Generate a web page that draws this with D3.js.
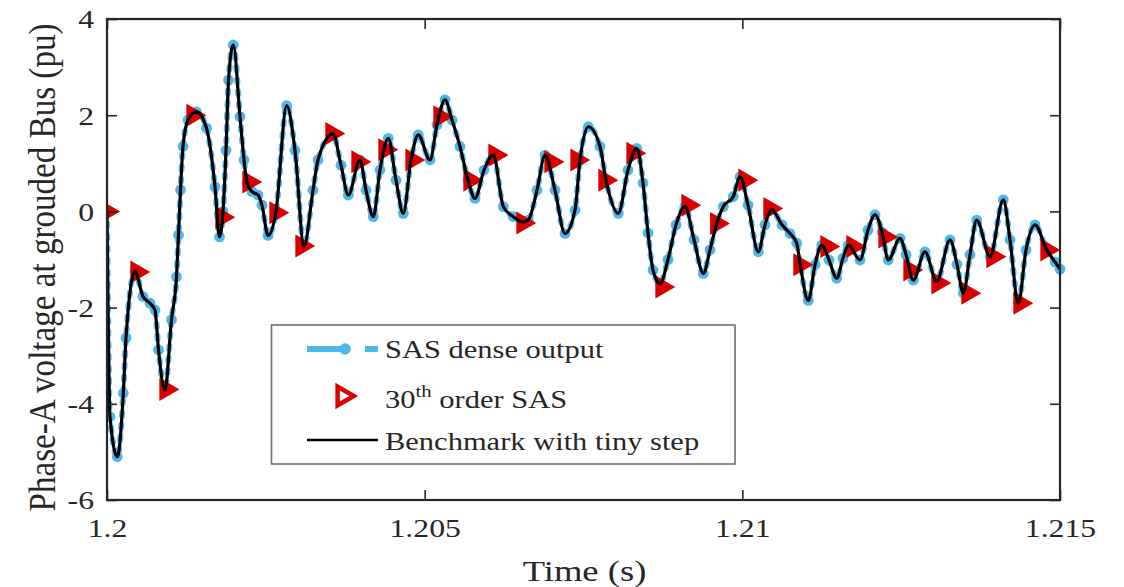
<!DOCTYPE html>
<html>
<head>
<meta charset="utf-8">
<script src="https://cdn.jsdelivr.net/npm/d3@7"></script>
<style>
  html, body { margin: 0; padding: 0; background: #fff; }
  svg { display: block; }
  text { font-family: "Liberation Serif", "Times New Roman", serif; fill: #262626; }
</style>
</head>
<body>
<svg id="chart" width="1124" height="587"></svg>
<script>
// ---- Data ----
// Time offsets in ms after 1.2 s; converted to seconds below.
const traceMs = [0.0000,0.0472,0.1621,0.2566,0.2991,0.4407,0.5666,0.6768,0.7555,0.8106,
  0.9129,1.0152,1.0939,1.1254,1.1569,1.1962,1.2749,1.4087,1.5661,1.6999,
  1.7708,1.8258,1.8731,1.9124,1.9880,2.0934,2.1564,2.2036,2.2823,2.3767,
  2.4397,2.5341,2.6601,2.8285,2.9591,3.1008,3.2424,3.3211,3.5572,3.6832,
  3.7981,3.9822,4.0767,4.1916,4.2970,4.4277,4.5489,4.6638,4.7850,4.8999,
  5.0840,5.1942,5.3201,5.4303,5.5562,5.6821,5.7923,5.9340,6.0804,6.2378,
  6.3952,6.5478,6.6313,6.7682,6.8941,7.0515,7.2089,7.3663,7.4450,7.5757,
  7.7598,7.8543,8.0479,8.2005,8.3375,8.4366,8.5153,8.5940,8.7042,8.8301,
  8.9561,9.0977,9.2394,9.3858,9.4912,9.5967,9.7006,9.8580,9.9634,10.0893,
  10.2515,10.3569,10.4624,10.6245,10.7504,10.8559,10.9078,11.0385,11.1439,11.2494,
  11.3643,11.4855,11.5847,11.6681,11.8522,11.9781,12.0883,12.1985,12.2977,12.4818,
  12.5763,12.6912,12.8753,13.0595,13.2688,13.3790,13.4782,13.5836,13.6891,13.8984,
  14.1078,14.2132,14.3439,14.4651,14.6070,14.7909,14.9215,15.0000];
// Benchmark (black line) / SAS dense output (blue dots) — they coincide
const traceV = [0.00,-4.27,-5.10,-3.78,-2.63,-1.25,-1.77,-1.91,-2.05,-2.88,
  -3.71,-2.25,-1.36,-0.49,0.45,1.35,1.90,2.07,1.73,0.51,
  -0.53,0.00,1.27,2.73,3.46,1.97,1.07,0.59,0.41,0.34,
  0.13,-0.50,0.00,2.20,1.27,-0.72,0.44,1.07,1.61,0.96,
  0.34,1.07,0.44,-0.11,0.86,1.52,0.65,-0.04,1.07,1.59,
  1.07,1.80,2.32,1.90,1.35,0.65,0.27,0.86,1.17,0.10,
  -0.11,-0.22,-0.18,0.44,1.17,0.44,-0.46,0.03,1.07,1.76,
  1.35,0.65,-0.04,0.86,1.31,0.59,-0.45,-1.22,-1.50,-1.00,
  -0.28,0.10,-0.59,-1.29,-0.80,-0.25,0.10,0.31,0.72,0.13,
  -0.84,-0.28,0.03,-0.28,-0.46,-0.66,-1.08,-1.85,-1.11,-0.70,
  -1.01,-1.39,-0.97,-0.70,-1.01,-0.39,-0.07,-0.43,-1.01,-0.56,
  -0.90,-1.43,-0.84,-1.46,-0.59,-1.10,-1.70,-0.90,-0.18,-0.94,
  0.24,-0.59,-1.91,-0.80,-0.28,-0.80,-1.05,-1.20];

// 30th order SAS (red triangles)
const sasMs = [0.0000,0.4722,0.9287,1.3536,1.8101,2.2351,2.6601,3.0693,3.5415,3.9508,
  4.3758,4.8008,5.2415,5.7137,6.1071,6.5478,6.9886,7.3978,7.8386,8.2793,
  8.7357,9.1450,9.5967,10.0421,10.4356,10.9078,11.3328,11.7420,12.2457,12.6392,
  13.0799,13.5521,13.9456,14.3707,14.7956];
const sasV = [0.00,-1.26,-3.70,2.00,-0.12,0.61,-0.03,-0.72,1.62,1.03,
  1.28,1.07,1.97,0.65,1.17,-0.24,1.03,1.07,0.65,1.21,
  -1.57,0.13,-0.25,0.65,0.06,-1.11,-0.73,-0.73,-0.53,-1.22,
  -1.49,-1.70,-0.94,-1.91,-0.80];

const xTicks = [1.2, 1.205, 1.21, 1.215];
const xTickLabels = ["1.2", "1.205", "1.21", "1.215"];
const yTicks = [-6, -4, -2, 0, 2, 4];
const yTickLabels = ["-6", "-4", "-2", "0", "2", "4"];

const legendLabels = ["SAS dense output", "30", "th", " order SAS", "Benchmark with tiny step"];
const xLabel = "Time (s)";
const yLabel = "Phase-A voltage at grouded Bus (pu)";

// ---- Build series ----
const trace = traceMs.map((t, i) => ({ t: 1.2 + t / 1000, v: traceV[i] }));
const sas = sasMs.map((t, i) => ({ t: 1.2 + t / 1000, v: sasV[i] }));

// ---- Layout ----
const L = 107, R = 1060, T = 19, B = 500;
const SX = 1.22; // horizontal stretch of the reference glyphs
const axisColor = "#262626";
const blue = "#4DB8EA";
const red = "#D90000";

const svg = d3.select("#chart");
const x = d3.scaleLinear().domain([1.2, 1.215]).range([L, R]);
const y = d3.scaleLinear().domain([-6, 4]).range([B, T]);

svg.append("defs").append("clipPath").attr("id", "clip")
  .append("rect").attr("x", L).attr("y", T - 6).attr("width", R - L + 6).attr("height", B - T + 6);

const plot = svg.append("g").attr("clip-path", "url(#clip)");

const line = d3.line().x(d => x(d.t)).y(d => y(d.v)).curve(d3.curveMonotoneX);

// blue dense output: dashed line + dots
plot.append("path").datum(trace).attr("d", line)
  .attr("fill", "none").attr("stroke", blue).attr("stroke-width", 6)
  .attr("stroke-dasharray", "3 9").attr("stroke-linecap", "round").attr("opacity", 0.9);
plot.append("g").selectAll("circle").data(trace).join("circle")
  .attr("cx", d => x(d.t)).attr("cy", d => y(d.v)).attr("r", 5.4)
  .attr("fill", blue);

// red triangles
const tri = d3.symbol().type(d3.symbolTriangle).size(190);
plot.append("g").selectAll("path").data(sas).join("path")
  .attr("d", tri)
  .attr("transform", d => `translate(${x(d.t)},${y(d.v)}) rotate(90)`)
  .attr("fill", red).attr("stroke", red).attr("stroke-width", 1.2);

// black benchmark line
plot.append("path").datum(trace).attr("d", line)
  .attr("fill", "none").attr("stroke", "#000").attr("stroke-width", 3.2)
  .attr("stroke-linejoin", "round");

// ---- Axes ----
const fmtX = (d) => xTickLabels[xTicks.indexOf(d)];
const fmtY = (d) => yTickLabels[yTicks.indexOf(d)];

const gx = svg.append("g").attr("transform", `translate(0,${B})`)
  .call(d3.axisBottom(x).tickValues(xTicks).tickFormat(fmtX).tickSize(-10).tickPadding(0));
const gxt = svg.append("g").attr("transform", `translate(0,${T})`)
  .call(d3.axisTop(x).tickValues(xTicks).tickFormat("").tickSize(-10));
const gy = svg.append("g").attr("transform", `translate(${L},0)`)
  .call(d3.axisLeft(y).tickValues(yTicks).tickFormat(fmtY).tickSize(-10).tickPadding(0));
const gyr = svg.append("g").attr("transform", `translate(${R},0)`)
  .call(d3.axisRight(y).tickValues(yTicks).tickFormat("").tickSize(-10));

[gx, gxt, gy, gyr].forEach(g => {
  g.select(".domain").remove();
  g.selectAll(".tick line").attr("stroke", axisColor).attr("stroke-width", 1.6);
});

gx.selectAll(".tick text")
  .attr("y", 37).attr("dy", 0)
  .attr("transform", `scale(${SX},1)`)
  .style("font-size", "26px").style("font-family", "Liberation Serif").attr("fill", axisColor);

gy.selectAll(".tick text")
  .attr("x", -13 / SX).attr("dy", "0.34em")
  .attr("transform", `scale(${SX},1)`)
  .style("font-size", "26px").style("font-family", "Liberation Serif").attr("fill", axisColor);

// frame
svg.append("rect").attr("x", L).attr("y", T).attr("width", R - L).attr("height", B - T)
  .attr("fill", "none").attr("stroke", axisColor).attr("stroke-width", 2.2);

// axis labels
svg.append("text")
  .attr("transform", `translate(${(L + R) / 2 + 1},581) scale(${SX},1)`)
  .attr("text-anchor", "middle").style("font-size", "30px").text(xLabel);

svg.append("text")
  .attr("transform", `translate(55,${(T + B) / 2 + 8}) scale(${SX},1) rotate(-90)`)
  .attr("text-anchor", "middle").style("font-size", "31px")
  .attr("textLength", 488).attr("lengthAdjust", "spacingAndGlyphs")
  .text(yLabel);

// ---- Legend ----
const lg = svg.append("g");
lg.append("rect").attr("x", 271.5).attr("y", 325).attr("width", 463.5).attr("height", 139)
  .attr("fill", "#fff").attr("stroke", "#6e6e6e").attr("stroke-width", 1.6);

lg.append("line").attr("x1", 307).attr("x2", 345).attr("y1", 349).attr("y2", 349)
  .attr("stroke", blue).attr("stroke-width", 6);
lg.append("circle").attr("cx", 345).attr("cy", 349).attr("r", 5.8).attr("fill", blue);
lg.append("line").attr("x1", 365).attr("x2", 378).attr("y1", 349).attr("y2", 349)
  .attr("stroke", blue).attr("stroke-width", 6);
lg.append("text").attr("transform", `translate(385,358) scale(${SX},1)`)
  .style("font-size", "25px").text(legendLabels[0]);

lg.append("path").attr("d", d3.symbol().type(d3.symbolTriangle).size(150))
  .attr("transform", "translate(343,396) rotate(90)")
  .attr("fill", "#fff").attr("stroke", red).attr("stroke-width", 4.5)
  .attr("stroke-linejoin", "miter");
const t2 = lg.append("text").attr("transform", `translate(385,408) scale(${SX},1)`)
  .style("font-size", "25px");
t2.append("tspan").text(legendLabels[1]);
t2.append("tspan").attr("dy", -11).style("font-size", "17px").text(legendLabels[2]);
t2.append("tspan").attr("dy", 11).text(legendLabels[3]);

lg.append("line").attr("x1", 307).attr("x2", 378).attr("y1", 440).attr("y2", 440)
  .attr("stroke", "#000").attr("stroke-width", 2.5);
lg.append("text").attr("transform", `translate(385,450) scale(${SX},1)`)
  .style("font-size", "25px").text(legendLabels[4]);
</script>
</body>
</html>
